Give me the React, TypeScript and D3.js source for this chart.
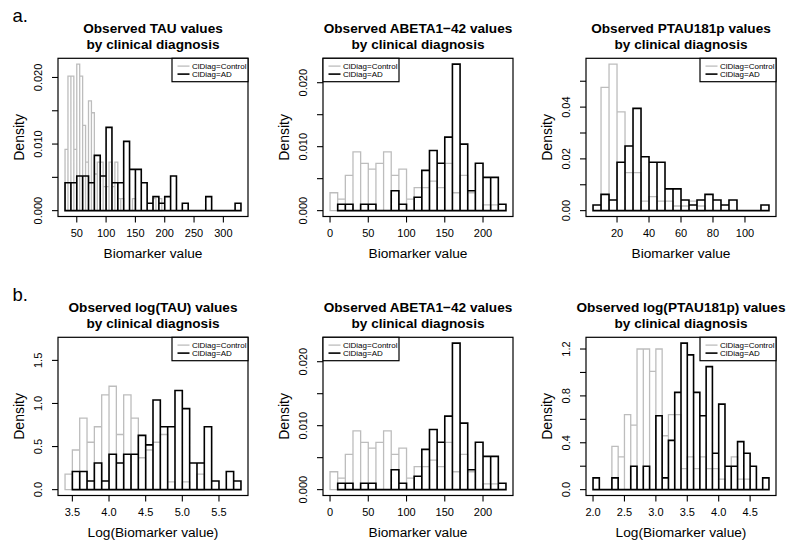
import React from 'react';
import * as d3 from 'd3';

// ---------- data (densities) ----------
const tauControl = [0.0092, 0.0202, 0.0202, 0.0092, 0.022, 0.0202, 0.0128, 0.0073, 0.0165, 0.0147, 0.0055, 0.0073, 0.0073, 0.0036, 0.0036, 0.0073, 0.0036, 0.0073, 0.0018, 0.0018, 0, 0, 0, 0.0018, 0, 0, 0, 0, 0, 0, 0.0018, 0, 0.0018];
const tauAD = [0.0042, 0.0042, 0.0052, 0.0052, 0.0042, 0.0083, 0.0052, 0.0125, 0.0042, 0.0042, 0.0104, 0.0062, 0.0062, 0.0042, 0.0011, 0.0021, 0.0011, 0.0021, 0.0052, 0, 0.0011, 0, 0, 0, 0.0021, 0, 0, 0, 0, 0.0011];

const abetaControl = [0.0028, 0.0018, 0.0055, 0.0092, 0.0074, 0.0065, 0.0074, 0.0092, 0.0055, 0.0065, 0.0018, 0.0036, 0.0036, 0.0046, 0.0036, 0.0074, 0.0028, 0.0055, 0.0028, 0, 0.0009, 0.0009];
const abetaAD = [0.001, 0.001, 0, 0.001, 0.001, 0, 0, 0.0031, 0.001, 0, 0.0021, 0.0063, 0.0094, 0.0074, 0.0115, 0.0229, 0.0104, 0.0031, 0.0074, 0.0052, 0.0052, 0.001];

const ptauControl = [0.0476, 0.0566, 0.0382, 0.0147, 0.0147, 0.0037, 0.0054, 0.0037, 0.0037, 0.0018, 0.0018, 0.0037, 0.0018];
const ptauAD = [0.0022, 0.0063, 0.0041, 0.0187, 0.025, 0.0395, 0.0208, 0.0187, 0.0187, 0.0084, 0.0084, 0.0041, 0.0022, 0.0041, 0.0063, 0.0041, 0.0022, 0.0041, 0, 0, 0, 0.0022];

const logTauControl = [0.18, 0.46, 0.83, 0.55, 0.73, 1.1, 1.2, 0.64, 1.1, 0.83, 0.37, 0.46, 0.55, 0.64, 0.09, 0, 0.09, 0, 0.18];
const logTauAD = [0.21, 0.21, 0.1, 0.31, 0.1, 0.41, 0.31, 0.41, 0.41, 0.63, 0.52, 1.04, 0.73, 0.73, 1.15, 0.94, 0.31, 0.31, 0.73, 0.1, 0, 0.21, 0.1];

const logPtauControl = [0.37, 0.28, 0.64, 0.55, 1.2, 1.2, 1.01, 1.2, 0.46, 0.64, 0.64, 0.18, 0.28, 0.18, 0.28, 0.18, 0.18, 0.09, 0, 0.28, 0.09, 0.09];
const logPtauAD = [0.1, 0, 0, 0.1, 0, 0, 0.2, 0, 0.2, 0, 0.63, 0.1, 0.42, 0.83, 1.25, 1.15, 0.83, 0.63, 1.05, 0.31, 0.73, 0.2, 0.2, 0.41, 0.31, 0.2, 0, 0.1];

// bin breaks: [first break, bin width]
const tauControlBins = [30, 5];
const tauADBins = [30, 10];
const abetaControlBins = [0, 10];
const abetaADBins = [10, 10];
const ptauControlBins = [10, 5];
const ptauADBins = [5, 5];
const logTauControlBins = [3.4, 0.1];
const logTauADBins = [3.5, 0.1];
const logPtauControlBins = [2.3, 0.1];
const logPtauADBins = [2.0, 0.1];

// tick values and labels
const tauXTicks = [50, 100, 150, 200, 250, 300];
const tauXLabels = ['50', '100', '150', '200', '250', '300'];
const abetaXTicks = [0, 50, 100, 150, 200];
const abetaXLabels = ['0', '50', '100', '150', '200'];
const ptauXTicks = [20, 40, 60, 80, 100];
const ptauXLabels = ['20', '40', '60', '80', '100'];
const logTauXTicks = [3.5, 4.0, 4.5, 5.0, 5.5];
const logTauXLabels = ['3.5', '4.0', '4.5', '5.0', '5.5'];
const logPtauXTicks = [2.0, 2.5, 3.0, 3.5, 4.0, 4.5];
const logPtauXLabels = ['2.0', '2.5', '3.0', '3.5', '4.0', '4.5'];

const smallYTicks = [0, 0.005, 0.01, 0.015, 0.02];
const smallYLabels = ['0.000', '', '0.010', '', '0.020'];
const ptauYTicks = [0, 0.01, 0.02, 0.03, 0.04, 0.05];
const ptauYLabels = ['0.00', '', '0.02', '', '0.04', ''];
const logTauYTicks = [0, 0.5, 1.0, 1.5];
const logTauYLabels = ['0.0', '0.5', '1.0', '1.5'];
const logPtauYTicks = [0, 0.2, 0.4, 0.6, 0.8, 1.0, 1.2];
const logPtauYLabels = ['0.0', '', '0.4', '', '0.8', '', '1.2'];

const legendLabels = ['ClDiag=Control', 'ClDiag=AD'];

// ---------- layout ----------
const FONT = "'Liberation Sans', Arial, Helvetica, sans-serif";
const GREY = '#bdbdbd';
const COL_LEFT = [58, 323, 586];
const ROW_TOP = [58.3, 337.3];
const BOX_W = 190;
const BOX_H = 158.2;

type Hist = { bins: number[]; values: number[] };
type PanelCfg = {
  row: number;
  col: number;
  title: string[];
  xLabel: string;
  control: Hist;
  ad: Hist;
  xTicks: number[];
  xLabels: string[];
  yTicks: number[];
  yLabels: string[];
  yMax?: number;
  legend: 'left' | 'right';
};

const panels: PanelCfg[] = [
  { row: 0, col: 0, title: ['Observed TAU values', 'by clinical diagnosis'], xLabel: 'Biomarker value', control: { bins: tauControlBins, values: tauControl }, ad: { bins: tauADBins, values: tauAD }, xTicks: tauXTicks, xLabels: tauXLabels, yTicks: smallYTicks, yLabels: smallYLabels, legend: 'right' },
  { row: 0, col: 1, title: ['Observed ABETA1\u221242 values', 'by clinical diagnosis'], xLabel: 'Biomarker value', control: { bins: abetaControlBins, values: abetaControl }, ad: { bins: abetaADBins, values: abetaAD }, xTicks: abetaXTicks, xLabels: abetaXLabels, yTicks: smallYTicks, yLabels: smallYLabels, legend: 'left' },
  { row: 0, col: 2, title: ['Observed PTAU181p values', 'by clinical diagnosis'], xLabel: 'Biomarker value', control: { bins: ptauControlBins, values: ptauControl }, ad: { bins: ptauADBins, values: ptauAD }, xTicks: ptauXTicks, xLabels: ptauXLabels, yTicks: ptauYTicks, yLabels: ptauYLabels, legend: 'right' },
  { row: 1, col: 0, title: ['Observed log(TAU) values', 'by clinical diagnosis'], xLabel: 'Log(Biomarker value)', control: { bins: logTauControlBins, values: logTauControl }, ad: { bins: logTauADBins, values: logTauAD }, xTicks: logTauXTicks, xLabels: logTauXLabels, yTicks: logTauYTicks, yLabels: logTauYLabels, yMax: 1.7, legend: 'right' },
  { row: 1, col: 1, title: ['Observed ABETA1\u221242 values', 'by clinical diagnosis'], xLabel: 'Biomarker value', control: { bins: abetaControlBins, values: abetaControl }, ad: { bins: abetaADBins, values: abetaAD }, xTicks: abetaXTicks, xLabels: abetaXLabels, yTicks: smallYTicks, yLabels: smallYLabels, legend: 'left' },
  { row: 1, col: 2, title: ['Observed log(PTAU181p) values', 'by clinical diagnosis'], xLabel: 'Log(Biomarker value)', control: { bins: logPtauControlBins, values: logPtauControl }, ad: { bins: logPtauADBins, values: logPtauAD }, xTicks: logPtauXTicks, xLabels: logPtauXLabels, yTicks: logPtauYTicks, yLabels: logPtauYLabels, legend: 'right' },
];

function histPath(h: Hist, xs: d3.ScaleLinear<number, number>, ys: d3.ScaleLinear<number, number>) {
  const [start, w] = h.bins;
  const p = d3.path();
  const y0 = ys(0);
  h.values.forEach((v, i) => {
    const a = xs(start + i * w);
    const b = xs(start + (i + 1) * w);
    const yv = ys(v);
    p.moveTo(a, y0);
    p.lineTo(a, yv);
    p.lineTo(b, yv);
    p.lineTo(b, y0);
    p.closePath();
  });
  return p.toString();
}

function Panel({ cfg }: { cfg: PanelCfg }) {
  const left = COL_LEFT[cfg.col];
  const top = ROW_TOP[cfg.row];
  const right = left + BOX_W;
  const bottom = top + BOX_H;
  const edges = (h: Hist) => [h.bins[0], h.bins[0] + h.values.length * h.bins[1]];
  const allEdges = [...edges(cfg.control), ...edges(cfg.ad)];
  const xmin = d3.min(allEdges)!;
  const xmax = d3.max(allEdges)!;
  const xr = xmax - xmin;
  const xs = d3.scaleLinear().domain([xmin - 0.04 * xr, xmax + 0.04 * xr]).range([left, right]);
  const ymax = cfg.yMax ?? (d3.max([...cfg.control.values, ...cfg.ad.values]) as number);
  const ys = d3.scaleLinear().domain([-0.04 * ymax, ymax * 1.04]).range([bottom, top]);
  const cx = (left + right) / 2;
  const cy = (top + bottom) / 2;

  const legW = 76;
  const legH = 23.4;
  const legX = cfg.legend === 'right' ? right - legW : left;
  const legY = top;

  return (
    <g>
      <text x={cx} y={top - 25.3} textAnchor="middle" fontWeight="bold" fontSize={13.6} fontFamily={FONT}>{cfg.title[0]}</text>
      <text x={cx} y={top - 9.8} textAnchor="middle" fontWeight="bold" fontSize={13.6} fontFamily={FONT}>{cfg.title[1]}</text>
      <path d={histPath(cfg.control, xs, ys)} fill="none" stroke={GREY} strokeWidth={1.3} />
      <path d={histPath(cfg.ad, xs, ys)} fill="none" stroke="#000" strokeWidth={1.6} />
      <rect x={left} y={top} width={BOX_W} height={BOX_H} fill="none" stroke="#000" strokeWidth={1.2} />
      {cfg.xTicks.map((t, i) => (
        <g key={'x' + i}>
          <line x1={xs(t)} x2={xs(t)} y1={bottom} y2={bottom + 6} stroke="#000" strokeWidth={1.1} />
          <text x={xs(t)} y={bottom + 20.8} textAnchor="middle" fontSize={11} fontFamily={FONT}>{cfg.xLabels[i]}</text>
        </g>
      ))}
      {cfg.yTicks.map((t, i) => (
        <g key={'y' + i}>
          <line x1={left} x2={left - 6} y1={ys(t)} y2={ys(t)} stroke="#000" strokeWidth={1.1} />
          {cfg.yLabels[i] && (
            <text transform={`translate(${left - 16.3},${ys(t)}) rotate(-90)`} textAnchor="middle" fontSize={11} fontFamily={FONT}>{cfg.yLabels[i]}</text>
          )}
        </g>
      ))}
      <text x={cx} y={bottom + 41.8} textAnchor="middle" fontSize={13.7} fontFamily={FONT}>{cfg.xLabel}</text>
      <text transform={`translate(${left - 34},${cy}) rotate(-90)`} textAnchor="middle" fontSize={14} fontFamily={FONT}>Density</text>
      <g>
        <rect x={legX} y={legY} width={legW} height={legH} fill="#fff" stroke="#000" strokeWidth={1.2} />
        {legendLabels.map((lab, i) => (
          <g key={lab}>
            <line x1={legX + 5.5} x2={legX + 17.5} y1={legY + 7.8 + i * 8} y2={legY + 7.8 + i * 8} stroke={i === 0 ? GREY : '#000'} strokeWidth={i === 0 ? 1.3 : 1.6} />
            <text x={legX + 20} y={legY + 7.8 + i * 8} dy="0.35em" fontSize={8} fontFamily={FONT}>{lab}</text>
          </g>
        ))}
      </g>
    </g>
  );
}

export default function App() {
  return (
    <svg width={800} height={555} style={{ position: 'absolute', left: 0, top: 0, background: '#fff' }}>
      <rect x={0} y={0} width={800} height={555} fill="#fff" />
      <text x={12.5} y={21.5} fontSize={18.5} fontFamily={FONT}>a.</text>
      <text x={12.5} y={300.5} fontSize={18.5} fontFamily={FONT}>b.</text>
      {panels.map((p, i) => (
        <Panel key={i} cfg={p} />
      ))}
    </svg>
  );
}
